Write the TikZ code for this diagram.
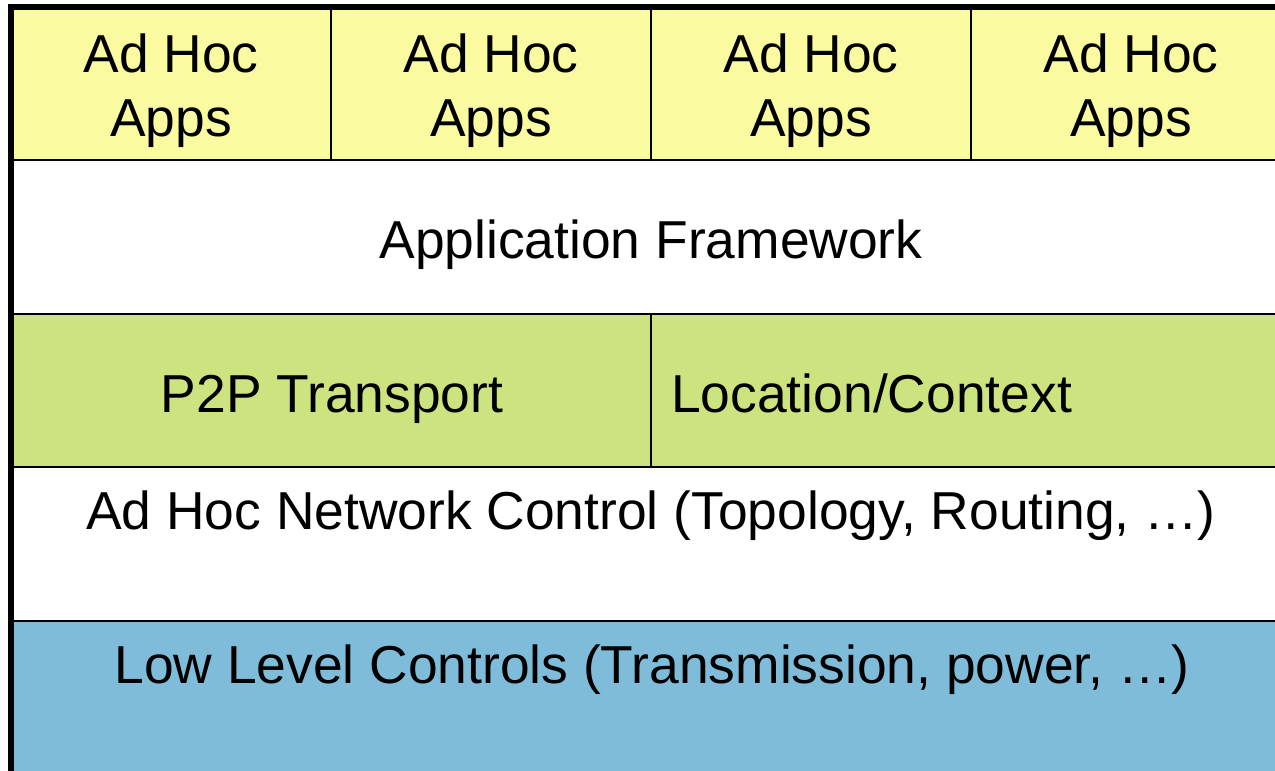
\documentclass[tikz,border=0pt]{standalone}
\usepackage{fontspec}
\setmainfont{Liberation Sans}
\definecolor{appyellow}{HTML}{FAFAA0}
\definecolor{layergreen}{HTML}{CDE380}
\definecolor{layerblue}{HTML}{7FBCD9}
\begin{document}
\begin{tikzpicture}[x=1pt,y=-1pt,
  cell/.style={draw=black, line width=1.6pt},
  frame/.style={draw=black, line width=6pt},
  lbl/.style={font=\fontsize{53.4}{64}\selectfont, inner sep=0pt, anchor=base, align=center}]
\useasboundingbox (0,0) rectangle (1275,771);
\clip (0,0) rectangle (1275,771);
% top row: apps
\draw[cell, fill=appyellow] (11,7) rectangle (331,160);
\draw[cell, fill=appyellow] (331,7) rectangle (651,160);
\draw[cell, fill=appyellow] (651,7) rectangle (971,160);
\draw[cell, fill=appyellow] (971,7) rectangle (1291,160);
% application framework
\draw[cell, fill=white] (11,160) rectangle (1291,314);
% transport / location
\draw[cell, fill=layergreen] (11,314) rectangle (651,467);
\draw[cell, fill=layergreen] (651,314) rectangle (1291,467);
% network control
\draw[cell, fill=white] (11,467) rectangle (1291,621);
% low level
\draw[cell, fill=layerblue] (11,621) rectangle (1291,776);
% outer frame
\draw[frame] (11,800) -- (11,7) -- (1300,7);
% labels (base = baseline of the last line)
\node[lbl] (app1) at (171,136) {Ad Hoc\\Apps};
\node[lbl] (app2) at (491,136) {Ad Hoc\\Apps};
\node[lbl] (app3) at (811,136) {Ad Hoc\\Apps};
\node[lbl] (app4) at (1131,136) {Ad Hoc\\Apps};
\node[lbl] (fw) at (651,258) {Application Framework};
\node[lbl] (p2p) at (332,412) {P2P Transport};
\node[lbl, anchor=base west] (loc) at (671,412) {Location/Context};
\node[lbl] (net) at (651,529) {Ad Hoc Network Control (Topology, Routing, …)};
\node[lbl] (low) at (652,683) {Low Level Controls (Transmission, power, …)};
\end{tikzpicture}
\end{document}
